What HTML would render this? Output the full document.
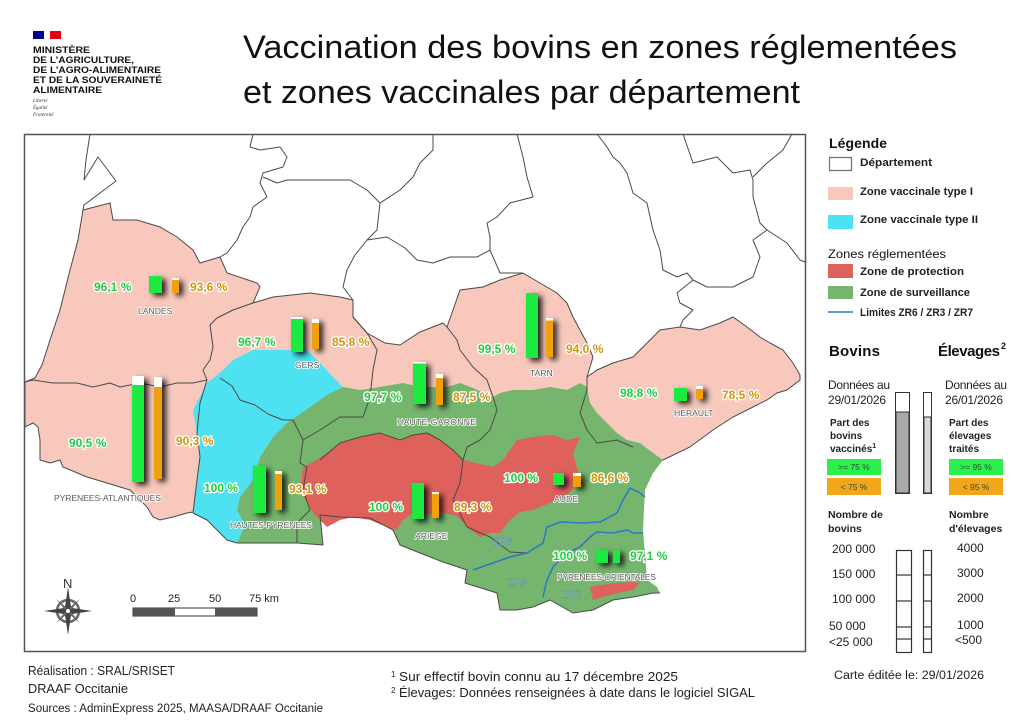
<!DOCTYPE html>
<html><head><meta charset="utf-8"><style>
html,body{margin:0;padding:0;background:#fff;}
svg{display:block;font-family:"Liberation Sans",sans-serif;}
.pv{font-weight:bold;font-size:12px;stroke:#fff;stroke-width:2.6px;paint-order:stroke;stroke-linejoin:round;}
.g{fill:#1fcf3e;}
.o{fill:#d3950c;}
.dl{font-size:8.6px;fill:#5c5c5c;stroke:#fff;stroke-width:1.6px;paint-order:stroke;stroke-linejoin:round;}
.zr{font-size:10px;fill:#cfe9f6;stroke:#4f86aa;stroke-width:0.5px;}
.bd{fill:none;stroke:#4a4a4a;stroke-width:1;stroke-linejoin:round;}
.lg{font-size:11px;font-weight:bold;fill:#222;}
</style></head><body>
<svg width="1024" height="724" viewBox="0 0 1024 724" xmlns="http://www.w3.org/2000/svg">
<defs>
<filter id="sh" x="-80%" y="-20%" width="300%" height="160%">
<feDropShadow dx="4" dy="3" stdDeviation="3" flood-color="#000" flood-opacity="0.85"/>
</filter>
</defs>
<rect width="1024" height="724" fill="#fff"/>

<!-- Logo -->
<rect x="33" y="31" width="11" height="8" fill="#000091"/>
<rect x="44" y="31" width="6" height="8" fill="#fff"/>
<rect x="50" y="31" width="11" height="8" fill="#e1000f"/>
<g font-weight="bold" font-size="9.6" fill="#111">
<text x="33" y="53" textLength="57" lengthAdjust="spacingAndGlyphs">MINISTÈRE</text>
<text x="33" y="63" textLength="101" lengthAdjust="spacingAndGlyphs">DE L’AGRICULTURE,</text>
<text x="33" y="73" textLength="128" lengthAdjust="spacingAndGlyphs">DE L’AGRO-ALIMENTAIRE</text>
<text x="33" y="83" textLength="129" lengthAdjust="spacingAndGlyphs">ET DE LA SOUVERAINETÉ</text>
<text x="33" y="93" textLength="69" lengthAdjust="spacingAndGlyphs">ALIMENTAIRE</text>
</g>
<g font-family="Liberation Serif,serif" font-style="italic" font-size="5" fill="#333">
<text x="33" y="102">Liberté</text>
<text x="33" y="109">Égalité</text>
<text x="33" y="116">Fraternité</text>
</g>

<!-- Title -->
<text x="243" y="58" font-size="32" fill="#111" textLength="714" lengthAdjust="spacingAndGlyphs">Vaccination  des bovins en zones réglementées</text>
<text x="243" y="103" font-size="32" fill="#111" textLength="557" lengthAdjust="spacingAndGlyphs">et zones vaccinales par département</text>

<!-- MAP -->
<g>
<path d="M83,210 L110,203 L113,220 L137,220 L160,227 L177,237 L193,250 L200,263 L220,257 L227,273 L257,283 L260,287 L253,303 L273,297 L310,293 L340,297 L353,300 L353,317 L367,333 L385,343 L400,345 L420,332 L443,323 L447,327 L460,290 L483,287 L500,280 L523,273 L540,283 L557,293 L567,303 L573,317 L580,330 L587,343 L593,357 L587,377 L597,370 L613,363 L633,357 L647,343 L660,330 L680,327 L700,330 L720,323 L733,317 L747,327 L760,337 L770,343 L783,350 L793,363 L800,375 L800,380 L787,390 L777,393 L767,400 L753,407 L733,417 L713,430 L690,447 L663,460 L640,470 L600,480 L400,480 L240,520 L193,512 L187,513 L173,517 L160,520 L153,517 L147,507 L130,490 L120,487 L107,483 L87,477 L63,467 L60,460 L50,463 L40,460 L40,440 L38,427 L33,423 L25,427 L25,382 L35,378 L42,365 L50,340 L60,310 L70,270 L78,240 Z" fill="#f8c8bc" stroke="#4a4a4a" stroke-width="1"/>
<path d="M193,410 L207,383 L220,373 L233,360 L253,350 L273,350 L290,350 L307,350 L320,363 L333,377 L343,387 L327,395 L313,405 L303,412 L287,423 L273,437 L260,457 L253,480 L240,497 L237,510 L245,525 L237,543 L227,540 L220,533 L207,520 L193,513 L197,480 L200,457 L197,433 Z" fill="#4de1f1"/>
<path d="M343,387 L360,390 L380,387 L403,383 L420,387 L447,387 L460,383 L473,388 L493,397 L500,393 L513,390 L533,390 L550,387 L567,390 L580,383 L587,387 L590,403 L597,413 L607,423 L617,433 L627,440 L640,443 L653,453 L663,460 L653,473 L645,490 L643,530 L647,580 L657,587 L660,593 L653,593 L633,597 L613,600 L593,610 L573,613 L550,600 L533,607 L517,610 L500,610 L497,593 L465,583 L467,570 L443,562 L420,553 L400,545 L393,530 L370,518 L340,517 L320,515 L323,545 L297,543 L263,543 L237,543 L245,525 L237,510 L240,497 L253,480 L260,457 L273,437 L287,423 L303,412 L313,405 L327,395 Z" fill="#76b56e"/>
<path d="M303,467 L317,460 L340,443 L360,437 L380,433 L400,440 L413,435 L427,433 L440,440 L453,450 L463,460 L493,467 L503,460 L517,440 L533,437 L553,435 L567,440 L580,437 L573,453 L580,480 L570,493 L550,503 L533,510 L520,512 L510,520 L500,533 L490,533 L480,537 L467,527 L457,516 L440,512 L425,515 L413,513 L403,520 L397,530 L387,527 L370,520 L353,517 L340,520 L327,527 L313,513 L300,490 Z" fill="#de615b"/>
<path d="M590,587 L600,585 L617,583 L633,582 L640,583 L633,590 L617,593 L603,597 L593,600 Z" fill="#de615b"/>

<polyline class="bd" points="25,382 33,380 53,383 77,383 93,387 110,383 120,387 140,383 160,387 177,383 193,383 207,380"/>
<polyline class="bd" points="253,303 233,310 217,318 210,325 213,347 210,360 203,370 207,380"/>
<polyline class="bd" points="207,380 200,403 197,433 200,457 197,480 193,513"/>
<polyline class="bd" points="193,513 207,520 220,533 227,540 237,543 263,543 297,543 323,545 320,515 340,517 370,518 393,530 400,545 420,553 443,562 467,570 465,583 497,593 500,610 517,610 533,607 550,600 573,613 593,610 613,600 633,597 653,593 660,593"/>
<polyline class="bd" points="220,378 232,386 240,400 255,405 268,414 283,420 293,420 303,440 300,463 307,467 303,490 310,510 297,523 297,543"/>
<polyline class="bd" points="353,317 367,333 377,350 373,370 370,397 363,417 340,417 320,430 303,440"/>
<polyline class="bd" points="447,327 457,340 460,350 473,367 487,380 493,397 497,410 490,430 480,440 467,447 463,460"/>
<polyline class="bd" points="320,460 340,443 360,437 380,433 400,440 413,435 427,433 440,440 453,450 463,460"/>
<polyline class="bd" points="463,460 460,483 453,500 467,527 490,537 510,552 527,553"/>
<polyline class="bd" points="587,377 587,390 580,413 587,430 597,443 617,440 633,447"/>
<polyline class="bd" points="253,134 250,147 260,150 280,147 287,157 283,167 273,170 263,173 260,183 267,197 253,207 250,217 243,227 237,240 227,253 220,257"/>
<polyline class="bd" points="263,177 277,183 287,180 320,180 350,180 367,190 380,203 400,190 413,177 420,163 433,150 433,134"/>
<polyline class="bd" points="380,203 377,230 367,240 355,255 347,270 343,287 353,300"/>
<polyline class="bd" points="367,240 387,237 405,248 417,260 433,263 450,257 477,257 490,250"/>
<polyline class="bd" points="517,134 523,157 527,177 533,197 510,203 497,217 487,223 490,237 490,250 500,273 523,273"/>
<polyline class="bd" points="597,134 607,147 613,157 620,163 627,173 633,193 647,203 653,230 660,250 663,270 677,277 687,273 693,280 677,293 680,303 693,310 683,320 680,327"/>
<polyline class="bd" points="683,134 693,163 717,157 733,173 750,170 753,180"/>
<polyline class="bd" points="753,180 753,197 760,223 767,230 753,240 760,257 753,277 733,287 707,287 693,280"/>
<polyline class="bd" points="767,230 787,243 800,260 805,262"/>
<polyline class="bd" points="792,134 783,150 767,163 753,177"/>
<polyline class="bd" points="90,134 86,160 84,180 98,157 116,181 84,205 83,210"/>

<polyline fill="none" stroke="#2a78c8" stroke-width="1.5" points="473,570 493,563 510,557 527,553 543,543 547,527 560,522 583,523 600,522 617,513 623,500 630,488 640,493 645,497"/>
<polyline fill="none" stroke="#2a78c8" stroke-width="1.5" points="543,597 547,580 553,567 567,553 580,547 590,537 597,532 613,533 627,530 633,533 643,533"/>

<g filter="url(#sh)">
<rect x="149" y="276" width="13" height="17" fill="#1bea41"/>
<rect x="172" y="278" width="7" height="15" fill="#f0a010"/>
<rect x="291" y="317" width="12" height="35" fill="#1bea41"/>
<rect x="312" y="319" width="7" height="30" fill="#f0a010"/>
<rect x="132" y="376" width="12" height="106" fill="#1bea41"/>
<rect x="154" y="377" width="8" height="102" fill="#f0a010"/>
<rect x="253" y="466" width="13" height="47" fill="#1bea41"/>
<rect x="275" y="471" width="7" height="39" fill="#f0a010"/>
<rect x="413" y="362" width="13" height="42" fill="#1bea41"/>
<rect x="436" y="374" width="7" height="31" fill="#f0a010"/>
<rect x="412" y="483" width="12" height="36" fill="#1bea41"/>
<rect x="432" y="492" width="7" height="26" fill="#f0a010"/>
<rect x="526" y="293" width="12" height="65" fill="#1bea41"/>
<rect x="546" y="318" width="7" height="39" fill="#f0a010"/>
<rect x="674" y="388" width="13" height="13" fill="#1bea41"/>
<rect x="696" y="386" width="7" height="13" fill="#f0a010"/>
<rect x="553" y="473" width="11" height="12" fill="#1bea41"/>
<rect x="573" y="473" width="8" height="14" fill="#f0a010"/>
<rect x="596" y="550" width="12" height="13" fill="#1bea41"/>
<rect x="613" y="550" width="7" height="13" fill="#1bea41"/>
</g>
<g fill="#fff">
<rect x="172" y="278" width="7" height="2"/>
<rect x="291" y="317" width="12" height="2"/>
<rect x="312" y="319" width="7" height="4"/>
<rect x="132" y="376" width="12" height="9"/>
<rect x="154" y="377" width="8" height="10"/>
<rect x="275" y="471" width="7" height="3"/>
<rect x="413" y="362" width="13" height="1.5"/>
<rect x="436" y="374" width="7" height="4"/>
<rect x="432" y="492" width="7" height="2"/>
<rect x="546" y="318" width="7" height="2.5"/>
<rect x="696" y="386" width="7" height="3"/>
<rect x="573" y="473" width="8" height="3"/>
</g>

<text class="pv g" x="94" y="291">96,1 %</text>
<text class="pv o" x="190" y="291">93,6 %</text>
<text class="dl" x="138" y="314">LANDES</text>
<text class="pv g" x="238" y="346">96,7 %</text>
<text class="pv o" x="332" y="346">85,8 %</text>
<text class="dl" x="295" y="368">GERS</text>
<text class="pv g" x="69" y="447">90,5 %</text>
<text class="pv o" x="176" y="445">90,3 %</text>
<text class="dl" x="54" y="501" textLength="107">PYRENEES-ATLANTIQUES</text>
<text class="pv g" x="204" y="492">100 %</text>
<text class="pv o" x="289" y="493">93,1 %</text>
<text class="dl" x="230" y="528" textLength="82">HAUTES-PYRENEES</text>
<text class="pv g" x="364" y="401">97,7 %</text>
<text class="pv o" x="453" y="401">87,5 %</text>
<text class="dl" x="397" y="425" textLength="79">HAUTE-GARONNE</text>
<text class="pv g" x="369" y="511">100 %</text>
<text class="pv o" x="454" y="511">89,3 %</text>
<text class="dl" x="415" y="539">ARIEGE</text>
<text class="pv g" x="478" y="353">99,5 %</text>
<text class="pv o" x="566" y="353">94,0 %</text>
<text class="dl" x="530" y="376">TARN</text>
<text class="pv g" x="620" y="397">98,8 %</text>
<text class="pv o" x="722" y="399">78,5 %</text>
<text class="dl" x="674" y="416">HERAULT</text>
<text class="pv g" x="504" y="482">100 %</text>
<text class="pv o" x="591" y="482">86,6 %</text>
<text class="dl" x="554" y="502">AUDE</text>
<text class="pv g" x="553" y="560">100 %</text>
<text class="pv g" x="630" y="560">97,1 %</text>
<text class="dl" x="557" y="580" textLength="99">PYRENEES-ORIENTALES</text>
<text class="zr" x="493" y="545">ZR6</text>
<text class="zr" x="508" y="586">ZR3</text>
<text class="zr" x="562" y="598">ZR7</text>

<text x="63" y="588" font-size="13" fill="#333">N</text>
<g transform="translate(68,611)">
<circle r="11" fill="none" stroke="#666" stroke-width="2.5"/>
<circle r="5" fill="#fff" stroke="#555" stroke-width="1.5"/>
<polygon points="0,-24 3,-4 0,0 -3,-4" fill="#444"/>
<polygon points="0,24 3,4 0,0 -3,4" fill="#444"/>
<polygon points="24,0 4,3 0,0 4,-3" fill="#444"/>
<polygon points="-24,0 -4,3 0,0 -4,-3" fill="#444"/>
<polygon points="12,-12 3,-1 0,0 1,-3" fill="#666"/>
<polygon points="-12,-12 -3,-1 0,0 -1,-3" fill="#666"/>
<polygon points="12,12 3,1 0,0 1,3" fill="#666"/>
<polygon points="-12,12 -3,1 0,0 -1,3" fill="#666"/>
<circle r="2.5" fill="#fff" stroke="#444" stroke-width="1"/>
</g>
<g font-size="11" fill="#222">
<text x="130" y="602">0</text>
<text x="168" y="602">25</text>
<text x="209" y="602">50</text>
<text x="249" y="602">75  km</text>
</g>
<rect x="133" y="608" width="124" height="8" fill="#fff" stroke="#333" stroke-width="1"/>
<rect x="133" y="608" width="42" height="8" fill="#555"/>
<rect x="215" y="608" width="42" height="8" fill="#555"/>

<rect x="24.5" y="134.5" width="781" height="517" fill="none" stroke="#555" stroke-width="1.5"/>
</g>

<!-- LEGEND -->
<text x="829" y="148" font-size="14" font-weight="bold" fill="#111" textLength="58">Légende</text>
<rect x="829.5" y="157.5" width="22" height="13" fill="#fff" stroke="#777" stroke-width="1.3"/>
<text class="lg" x="860" y="166" textLength="72" lengthAdjust="spacingAndGlyphs">Département</text>
<rect x="828" y="187" width="25" height="13" fill="#f8c8bc"/>
<text class="lg" x="860" y="195" textLength="113" lengthAdjust="spacingAndGlyphs">Zone vaccinale type I</text>
<rect x="828" y="215" width="25" height="14" fill="#4de1f1"/>
<text class="lg" x="860" y="223" textLength="118" lengthAdjust="spacingAndGlyphs">Zone vaccinale type II</text>
<text x="828" y="258" font-size="12" fill="#111" textLength="118" lengthAdjust="spacingAndGlyphs">Zones réglementées</text>
<rect x="828" y="264" width="25" height="14" fill="#de615b"/>
<text class="lg" x="860" y="275" textLength="104" lengthAdjust="spacingAndGlyphs">Zone de protection</text>
<rect x="828" y="286" width="25" height="13" fill="#76b56e"/>
<text class="lg" x="860" y="296" textLength="110" lengthAdjust="spacingAndGlyphs">Zone de surveillance</text>
<line x1="828" y1="312" x2="853" y2="312" stroke="#2a78c8" stroke-width="1.5"/>
<text class="lg" x="860" y="316" textLength="113" lengthAdjust="spacingAndGlyphs">Limites ZR6 / ZR3 / ZR7</text>

<text x="829" y="356" font-size="15" font-weight="bold" fill="#111" textLength="51">Bovins</text>
<text x="938" y="356" font-size="15" font-weight="bold" fill="#111" textLength="62">Élevages</text>
<text x="1001" y="349" font-size="9" font-weight="bold" fill="#111">2</text>

<g font-size="12" fill="#222">
<text x="828" y="389" textLength="62">Données au</text>
<text x="828" y="404" textLength="58">29/01/2026</text>
<text x="945" y="389" textLength="62">Données au</text>
<text x="945" y="404" textLength="58">26/01/2026</text>
</g>
<g font-size="10" font-weight="bold" fill="#222">
<text x="830" y="426">Part des</text>
<text x="830" y="439">bovins</text>
<text x="830" y="452">vaccinés<tspan font-size="7" dy="-4">1</tspan></text>
<text x="949" y="426">Part des</text>
<text x="949" y="439">élevages</text>
<text x="949" y="452">traités</text>
</g>
<rect x="827" y="459" width="54" height="16" fill="#2bef4c"/>
<rect x="827" y="478" width="54" height="17" fill="#f3a51b"/>
<rect x="949" y="459" width="54" height="16" fill="#2bef4c"/>
<rect x="949" y="478" width="54" height="17" fill="#f3a51b"/>
<g font-size="8.5" fill="#2f4f2f" text-anchor="middle">
<text x="854" y="470">&gt;= 75 %</text>
<text x="854" y="490">&lt; 75 %</text>
<text x="976" y="470">&gt;= 95 %</text>
<text x="976" y="490">&lt; 95 %</text>
</g>
<rect x="895.5" y="392.5" width="14" height="101" fill="#fff" stroke="#333" stroke-width="1"/>
<rect x="896" y="412" width="13" height="81" fill="#a9a9a9" stroke="#333" stroke-width="1"/>
<rect x="923.5" y="392.5" width="8" height="101" fill="#fff" stroke="#333" stroke-width="1"/>
<rect x="924" y="417" width="7" height="76" fill="#d9d9d9" stroke="#333" stroke-width="1"/>

<g font-size="10.5" font-weight="bold" fill="#222">
<text x="828" y="518">Nombre de</text>
<text x="828" y="532">bovins</text>
<text x="949" y="518">Nombre</text>
<text x="949" y="532">d'élevages</text>
</g>
<g font-size="12" fill="#222">
<text x="832" y="553">200 000</text>
<text x="832" y="578">150 000</text>
<text x="832" y="603">100 000</text>
<text x="829" y="630">50 000</text>
<text x="829" y="646">&lt;25 000</text>
<text x="957" y="552">4000</text>
<text x="957" y="577">3000</text>
<text x="957" y="602">2000</text>
<text x="957" y="629">1000</text>
<text x="955" y="644">&lt;500</text>
</g>
<g fill="none" stroke="#333" stroke-width="1.2">
<rect x="896.5" y="550.5" width="15" height="102"/>
<line x1="896" y1="575" x2="912" y2="575"/>
<line x1="896" y1="601" x2="912" y2="601"/>
<line x1="896" y1="627" x2="912" y2="627"/>
<line x1="896" y1="639" x2="912" y2="639"/>
<rect x="923.5" y="550.5" width="8" height="102"/>
<line x1="923" y1="575" x2="932" y2="575"/>
<line x1="923" y1="601" x2="932" y2="601"/>
<line x1="923" y1="627" x2="932" y2="627"/>
<line x1="923" y1="639" x2="932" y2="639"/>
</g>

<!-- FOOTER -->
<g fill="#222">
<text x="28" y="675" font-size="13" textLength="147" lengthAdjust="spacingAndGlyphs">Réalisation : SRAL/SRISET</text>
<text x="28" y="693" font-size="13" textLength="100" lengthAdjust="spacingAndGlyphs">DRAAF Occitanie</text>
<text x="28" y="712" font-size="11.5" textLength="295" lengthAdjust="spacingAndGlyphs">Sources : AdminExpress 2025, MAASA/DRAAF Occitanie</text>
<text x="391" y="677" font-size="8">1</text>
<text x="399" y="681" font-size="12.5" textLength="279" lengthAdjust="spacingAndGlyphs">Sur effectif bovin connu au 17 décembre 2025</text>
<text x="391" y="693" font-size="8">2</text>
<text x="399" y="697" font-size="12.5" textLength="356" lengthAdjust="spacingAndGlyphs">Élevages: Données renseignées à date dans le logiciel SIGAL</text>
<text x="834" y="679" font-size="11.5" textLength="150" lengthAdjust="spacingAndGlyphs">Carte éditée le:  29/01/2026</text>
</g>
</svg>
</body></html>
